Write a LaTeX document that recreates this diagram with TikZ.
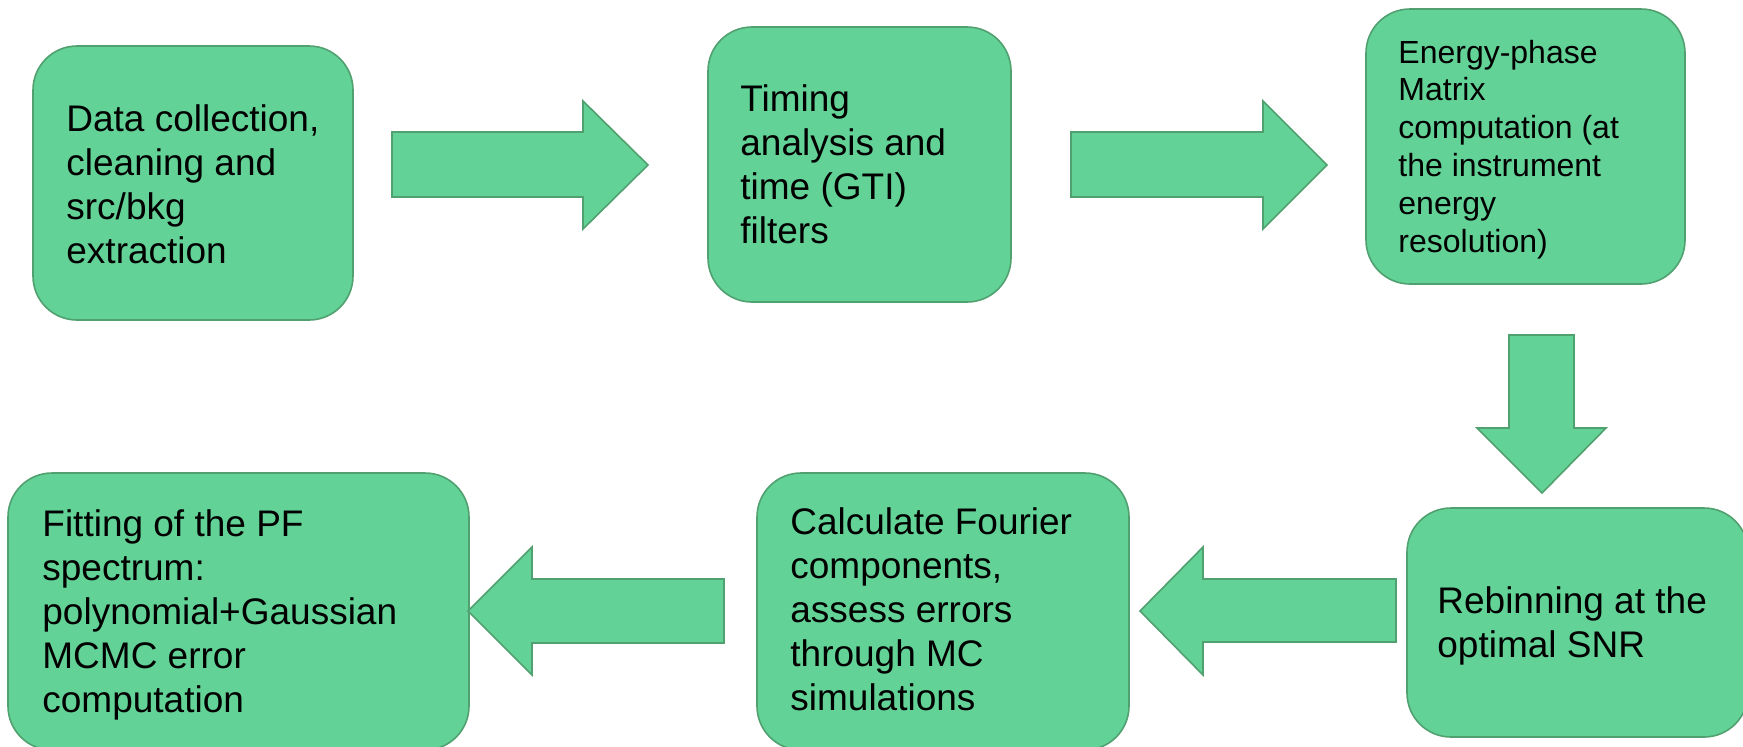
\documentclass[tikz,border=0pt]{standalone}
\usepackage{fontspec}
\setmainfont{Liberation Sans}
\usetikzlibrary{fit}
\definecolor{stepfill}{RGB}{99,210,151}
\definecolor{stepline}{RGB}{80,160,112}
\tikzset{
  stepbox/.style={draw=stepline, fill=stepfill, line width=0.8pt,
    rounded corners=22pt, inner sep=0pt, rectangle},
  % multi-line labels are placed by the baseline of their last line
  steptext/.style={anchor=base west, align=left, inner sep=0pt,
    font=\fontsize{18.5}{22}\selectfont},
  smalltext/.style={steptext, font=\fontsize{16}{18.9}\selectfont},
  blockarrow/.style={draw=stepline, fill=stepfill, line width=0.8pt, line join=miter}
}
\begin{document}
\begin{tikzpicture}[x=0.5pt,y=-0.5pt]
\useasboundingbox (0,0) rectangle (1743,746);

% process steps
\node[stepbox, fit={(33,46) (353,320)}] (b1) {};
\node[stepbox, fit={(708,27) (1011,302)}] (b2) {};
\node[stepbox, fit={(1366,9) (1685,284)}] (b3) {};
\node[stepbox, fit={(1407,508) (1748,737)}] (b4) {};
\node[stepbox, fit={(757,473) (1129,750)}] (b5) {};
\node[stepbox, fit={(8,473) (469,750)}] (b6) {};

% step descriptions
\node[steptext] (t1) at (66,263) {Data collection,\\cleaning and\\src/bkg\\extraction};
\node[steptext] (t2) at (740,243) {Timing\\analysis and\\time (GTI)\\filters};
\node[smalltext] (t3) at (1398,252) {Energy-phase\\Matrix\\computation (at\\the instrument\\energy\\resolution)};
\node[steptext] (t4) at (1437,657) {Rebinning at the\\optimal SNR};
\node[steptext] (t5) at (790,710) {Calculate Fourier\\components,\\assess errors\\through MC\\simulations};
\node[steptext] (t6) at (42,712) {Fitting of the PF\\spectrum:\\polynomial+Gaussian\\MCMC error\\computation};

% block arrows between the steps
\draw[blockarrow] (392,132) -- (583,132) -- (583,101) -- (648,165) -- (583,229) -- (583,197) -- (392,197) -- cycle;
\draw[blockarrow] (1071,132) -- (1263,132) -- (1263,101) -- (1327,165) -- (1263,229) -- (1263,197) -- (1071,197) -- cycle;
\draw[blockarrow] (1509,335) -- (1574,335) -- (1574,428) -- (1606,428) -- (1542,493) -- (1477,428) -- (1509,428) -- cycle;
\draw[blockarrow] (1396,579) -- (1203,579) -- (1203,547) -- (1140,611) -- (1203,675) -- (1203,642) -- (1396,642) -- cycle;
\draw[blockarrow] (724,579) -- (532,579) -- (532,547) -- (468,611) -- (532,675) -- (532,643) -- (724,643) -- cycle;
\end{tikzpicture}
\end{document}
